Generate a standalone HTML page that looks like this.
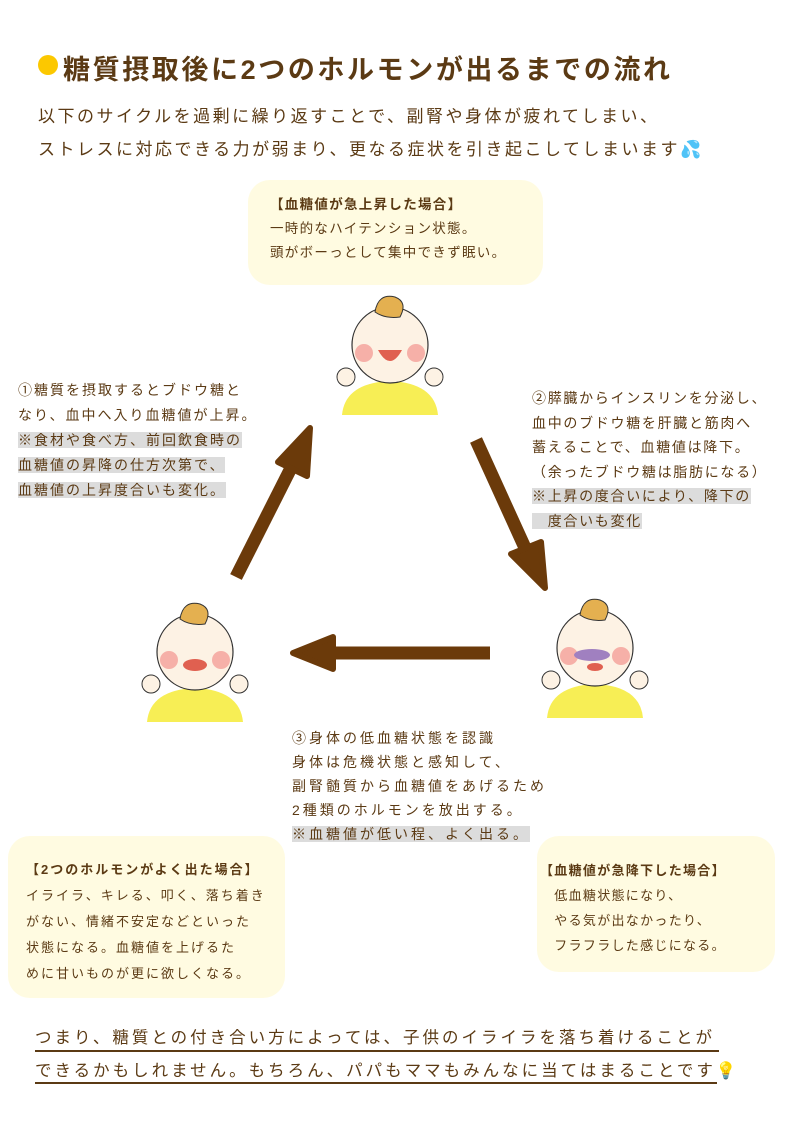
<!DOCTYPE html>
<html><head><meta charset="utf-8"><style>
body{margin:0;width:787px;height:1121px;background:#fff;position:relative;overflow:hidden;font-family:"Liberation Sans","Noto Sans CJK JP",sans-serif;color:#5b3a14}
.a{position:absolute;white-space:nowrap}
.box{position:absolute;background:#fffbe1;border-radius:22px}
.g{background:#dcdcdc}
p{margin:0}
</style></head><body>
<div class="a" style="left:38px;top:55px;width:20px;height:20px;border-radius:50%;background:#fcc800"></div>
<div class="a" style="left:63px;top:48px;font-size:27px;font-weight:bold;letter-spacing:2.6px">糖質摂取後に2つのホルモンが出るまでの流れ</div>
<div class="a" style="left:38px;top:100px;font-size:17px;letter-spacing:2.5px;line-height:33px">以下のサイクルを過剰に繰り返すことで、副腎や身体が疲れてしまい、<br>ストレスに対応できる力が弱まり、更なる症状を引き起こしてしまいます<span style="color:#3aa0e0">💦</span></div>

<div class="box" style="left:248px;top:180px;width:295px;height:105px"></div>
<div class="a" style="left:270px;top:193px;font-size:13.5px;letter-spacing:1.3px;line-height:24px"><b>【血糖値が急上昇した場合】</b><br>一時的なハイテンション状態。<br>頭がボーっとして集中できず眠い。</div>

<div class="a" style="left:18px;top:378px;font-size:14px;letter-spacing:2px;line-height:25px">①糖質を摂取するとブドウ糖と<br>なり、血中へ入り血糖値が上昇。<br><span class="g">※食材や食べ方、前回飲食時の</span><br><span class="g">血糖値の昇降の仕方次第で、</span><br><span class="g">血糖値の上昇度合いも変化。</span></div>

<div class="a" style="left:532px;top:386px;font-size:14px;letter-spacing:1.7px;line-height:24.5px">②膵臓からインスリンを分泌し、<br>血中のブドウ糖を肝臓と筋肉へ<br>蓄えることで、血糖値は降下。<br>（余ったブドウ糖は脂肪になる）<br><span class="g">※上昇の度合いにより、降下の</span><br><span class="g">　度合いも変化</span></div>

<div class="a" style="left:292px;top:726px;font-size:14px;letter-spacing:3px;line-height:24px">③身体の低血糖状態を認識<br>身体は危機状態と感知して、<br>副腎髄質から血糖値をあげるため<br>2種類のホルモンを放出する。<br><span class="g">※血糖値が低い程、よく出る。</span></div>

<div class="box" style="left:8px;top:836px;width:277px;height:162px"></div>
<div class="a" style="left:26px;top:857px;font-size:13px;letter-spacing:2px;line-height:26px"><b>【2つのホルモンがよく出た場合】</b><br>イライラ、キレる、叩く、落ち着き<br>がない、情緒不安定などといった<br>状態になる。血糖値を上げるた<br>めに甘いものが更に欲しくなる。</div>

<div class="box" style="left:537px;top:836px;width:238px;height:136px"></div>
<div class="a" style="left:540px;top:858px;font-size:13px;letter-spacing:1.3px;line-height:25px"><b>【血糖値が急降下した場合】</b><br>　低血糖状態になり、<br>　やる気が出なかったり、<br>　フラフラした感じになる。</div>

<div class="a" style="left:35px;top:1022px;font-size:16.5px;letter-spacing:3px;line-height:33px">つまり、糖質との付き合い方によっては、子供のイライラを落ち着けることが<br>できるかもしれません。もちろん、パパもママもみんなに当てはまることです💡</div>
<div class="a" style="left:35px;top:1050px;width:684px;height:2px;background:#5b3a14"></div>
<div class="a" style="left:35px;top:1082px;width:682px;height:2px;background:#5b3a14"></div>

<svg class="a" style="left:0;top:0" width="787" height="1121">
<g fill="#6b3a0a" stroke="#6b3a0a">
<line x1="236" y1="577" x2="292" y2="466" stroke-width="13"/>
<polygon points="310,428 278,462 307,476" stroke-width="6" stroke-linejoin="round"/>
<line x1="476" y1="440" x2="526" y2="550" stroke-width="13"/>
<polygon points="545,588 511,554 541,542" stroke-width="6" stroke-linejoin="round"/>
<line x1="490" y1="653" x2="330" y2="653" stroke-width="13"/>
<polygon points="293,653 333,637 333,669" stroke-width="6" stroke-linejoin="round"/>
</g>
<defs>
<g id="baby">
<path d="M-48,70 Q-45,38 0,36 Q45,38 48,70 Z" fill="#f7ee55"/>
<circle cx="0" cy="0" r="38" fill="#fdf2e4" stroke="#333" stroke-width="1.2"/>
<path d="M-15,-33 Q-12,-52 5,-48 Q18,-43 10,-28 Q-5,-26 -15,-33Z" fill="#e4b050" stroke="#333" stroke-width="1"/>
<circle cx="-26" cy="8" r="9" fill="#f6b0a8"/><circle cx="26" cy="8" r="9" fill="#f6b0a8"/>
<circle cx="-44" cy="32" r="9" fill="#fdf2e4" stroke="#333"/><circle cx="44" cy="32" r="9" fill="#fdf2e4" stroke="#333"/>
</g>
</defs>
<use href="#baby" x="390" y="345"/>
<path d="M378,350 Q390,372 402,350Z" fill="#e06050"/>
<use href="#baby" x="195" y="652"/>
<ellipse cx="195" cy="665" rx="12" ry="6" fill="#e06050"/>
<use href="#baby" x="595" y="648"/>
<ellipse cx="592" cy="655" rx="18" ry="6" fill="#a080c0"/>
<ellipse cx="595" cy="667" rx="8" ry="4" fill="#e06050"/>
</svg>
</body></html>
